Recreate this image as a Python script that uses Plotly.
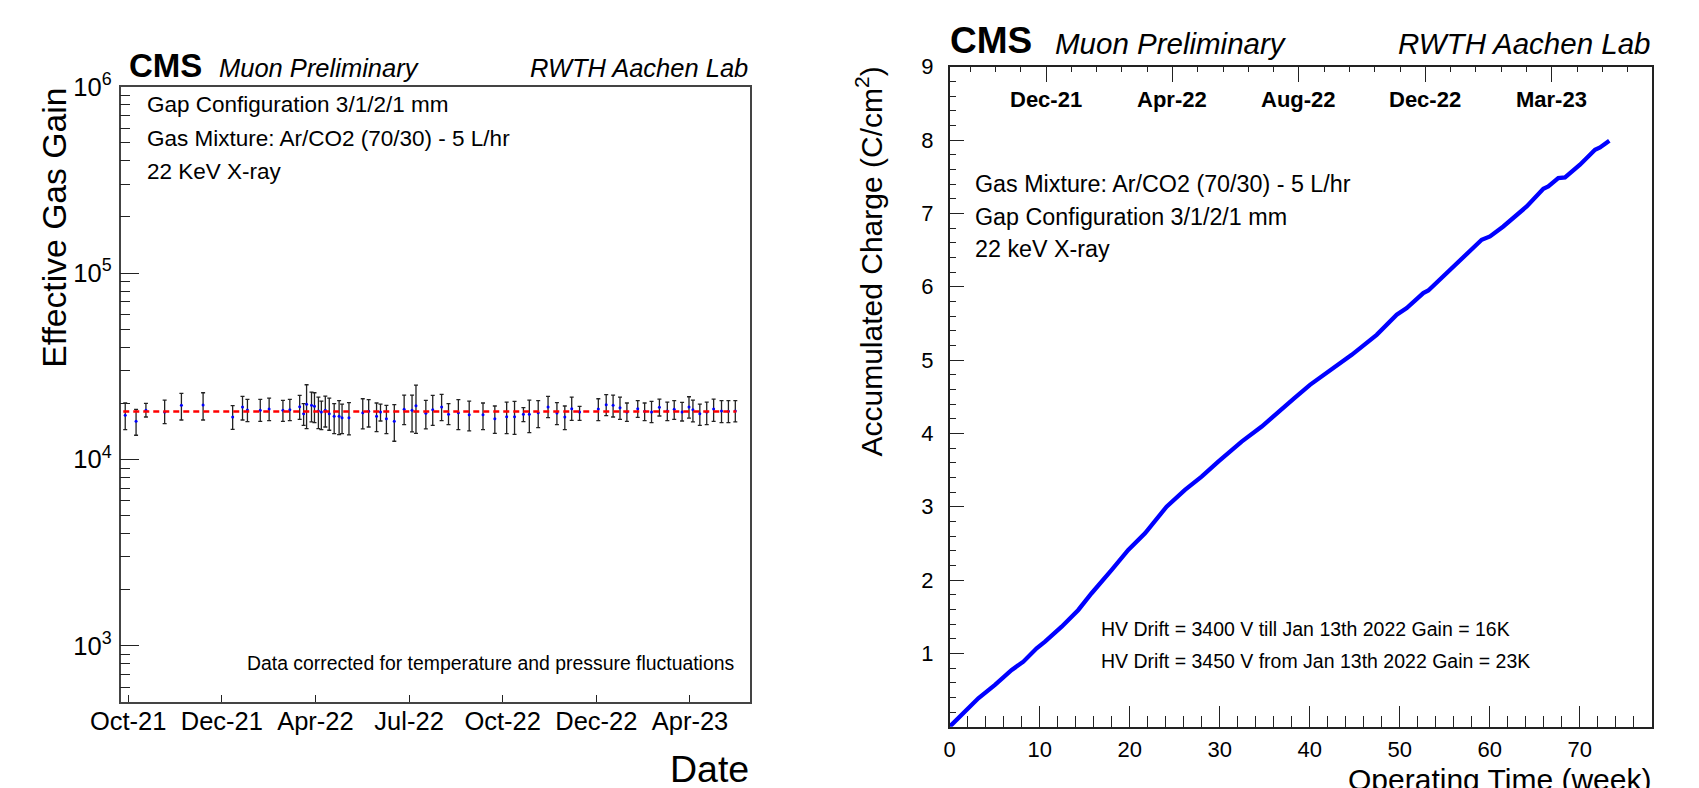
import math
import plotly.graph_objects as go

# ---------------- data: left panel (effective gas gain vs date) ----------------
days = [-3, 8, 18, 37, 54, 76, 106, 116, 121, 134, 143, 157, 164, 174, 178, 181, 186, 189,
        193, 196, 200, 204, 209, 214, 217, 224, 238, 244, 252, 256, 262, 270, 280, 288, 292,
        302, 309, 318, 325, 335, 346, 360, 372, 384, 392, 401, 407, 416, 426, 435, 443, 450,
        458, 477, 485, 492, 499, 506, 517, 524, 531, 539, 547, 554, 562, 569, 573, 580, 587,
        594, 602, 609, 616]
gain = [17250, 16030, 18350, 17980, 19520, 19600, 16900, 19120, 18430, 18350, 18660, 18350,
        18500, 19200, 17610, 19760, 19520, 19280, 18200, 17980, 18350, 17610, 17040, 17040,
        16760, 16760, 17830, 18130, 17040, 17980, 16560, 16030, 18580, 18350, 19440, 17690,
        18500, 19120, 17470, 17830, 17400, 17400, 16560, 16970, 16970, 17470, 17470, 17830,
        19120, 17760, 16900, 18730, 17980, 18660, 19680, 19520, 18970, 17980, 18730, 18130,
        17980, 19040, 18200, 18580, 17980, 19120, 18500, 17610, 17980, 18660, 18200, 18130,
        18200]
gain_hi = [20090, 18580, 20010, 20840, 22620, 22810, 19440, 21800, 21010, 21010, 21360, 20760,
           21010, 22070, 19920, 25170, 23000, 22810, 21620, 20590, 21890, 21360, 19920, 20670,
           19840, 20170, 21180, 20930, 20090, 19840, 19520, 19680, 22160, 22160, 25060, 20760,
           22070, 22350, 19920, 20930, 20590, 20090, 19360, 20330, 20500, 18970, 20840, 20670,
           21800, 20170, 19360, 21620, 19280, 21180, 22260, 22160, 21620, 20090, 20670, 20090,
           20500, 21100, 20330, 20670, 20250, 21710, 20840, 19840, 20330, 21100, 20670, 20670,
           20670]
gain_lo = [14470, 13490, 16900, 15570, 16290, 16290, 14520, 16290, 15960, 16030, 16160, 16030,
           16160, 16420, 15250, 14640, 15900, 15770, 14640, 14470, 14940, 14350, 13770, 13600,
           13770, 13540, 14580, 14940, 14110, 16090, 13770, 12530, 15380, 14050, 13820, 14580,
           15250, 16160, 15380, 14470, 14230, 14470, 13820, 13770, 13650, 15960, 13940, 14820,
           16760, 15380, 14470, 16220, 16220, 16160, 17180, 16900, 16420, 16030, 16830, 16160,
           15770, 17110, 16160, 16420, 16090, 16690, 15900, 15250, 15380, 16030, 15770, 15770,
           15900]
mean_gain = 18100
fit_days = [-5, 617]

date_tick_days = [0, 95, 190, 285, 380, 475, 570]
date_tick_labels = ["Oct-21", "Dec-21", "Apr-22", "Jul-22", "Oct-22", "Dec-22", "Apr-23"]
gain_tick_vals = [1e3, 1e4, 1e5, 1e6]
gain_tick_labels = ["10<sup>3</sup>", "10<sup>4</sup>", "10<sup>5</sup>", "10<sup>6</sup>"]

# ---------------- data: right panel (accumulated charge vs operating time) ----------------
weeks = [0, 1.7, 3.18, 5.03, 6.89, 8.18, 9.66, 10.59, 12.44, 14.29, 15.77, 18.0, 19.84, 21.7,
         23.18, 24.1, 26.14, 27.99, 29.84, 32.44, 34.67, 36.51, 38.3, 40.03, 42.26, 44.67,
         47.44, 49.67, 50.78, 52.62, 53.18, 55.96, 58.18, 59.11, 60.03, 61.51, 64.11, 65.96,
         66.51, 67.62, 68.37, 70.03, 71.7, 72.26, 73.29]
charge = [0, 0.205, 0.387, 0.569, 0.773, 0.887, 1.069, 1.160, 1.364, 1.592, 1.82, 2.138, 2.41,
          2.638, 2.865, 3.0, 3.229, 3.411, 3.615, 3.888, 4.093, 4.297, 4.48, 4.662, 4.866,
          5.071, 5.344, 5.617, 5.708, 5.913, 5.948, 6.276, 6.549, 6.64, 6.685, 6.821, 7.094,
          7.336, 7.367, 7.481, 7.49, 7.663, 7.867, 7.899, 7.99]

month_tick_weeks = [10.7, 24.75, 38.8, 52.85, 66.9]
month_tick_labels = ["Dec-21", "Apr-22", "Aug-22", "Dec-22", "Mar-23"]

# ---------------- layout helpers ----------------
W, H = 1699, 788
FONT = "Liberation Sans, Arial, Helvetica, sans-serif"


def px(x):
    return x / W


def py(y):
    return 1 - y / H


err_up = [h - g for h, g in zip(gain_hi, gain)]
err_dn = [g - l for g, l in zip(gain, gain_lo)]

fig = go.Figure()

fig.add_trace(go.Scatter(
    x=days, y=gain, mode="markers",
    marker=dict(color="#0000ff", size=3),
    error_y=dict(type="data", symmetric=False, array=err_up, arrayminus=err_dn,
                 color="#222222", thickness=1.3, width=2),
    xaxis="x", yaxis="y", showlegend=False, hoverinfo="skip"))

fig.add_trace(go.Scatter(
    x=fit_days, y=[mean_gain, mean_gain], mode="lines",
    line=dict(color="#ff0000", width=2.4, dash="6px,4px"),
    xaxis="x", yaxis="y", showlegend=False, hoverinfo="skip"))

fig.add_trace(go.Scatter(
    x=weeks, y=charge, mode="lines",
    line=dict(color="#0000ff", width=4.3),
    xaxis="x2", yaxis="y2", showlegend=False, hoverinfo="skip"))

fig.add_trace(go.Scatter(
    x=[None], y=[None], mode="markers", xaxis="x3", yaxis="y2",
    showlegend=False, hoverinfo="skip"))

minor_gain = [v * 10 ** e for e in range(2, 6) for v in range(2, 10) if 500 < v * 10 ** e < 1e6]

axis_common = dict(showgrid=False, zeroline=False, showline=True, mirror=True,
                   automargin=False, ticks="inside", tickcolor="#222222", tickwidth=1.2)

fig.update_layout(
    width=W, height=H,
    margin=dict(l=0, r=0, t=0, b=0, autoexpand=False),
    paper_bgcolor="white", plot_bgcolor="white",
    font=dict(family=FONT, color="black"),
    xaxis=dict(axis_common, domain=[px(120.5), px(750)], range=[-7.8, 630.9],
               tickmode="array", tickvals=date_tick_days, ticktext=date_tick_labels,
               ticklen=7, linecolor="#444444", linewidth=1.6,
               tickfont=dict(size=25.5), ticklabelstandoff=-4, anchor="y"),
    yaxis=dict(axis_common, domain=[py(702), py(86.7)], type="log",
               range=[math.log10(500), 6],
               tickmode="array", tickvals=gain_tick_vals, ticktext=gain_tick_labels,
               ticklen=18.5, linecolor="#444444", linewidth=1.6,
               minor=dict(ticks="inside", ticklen=9.5, tickmode="array", tickvals=minor_gain,
                          tickcolor="#222222", showgrid=False),
               tickfont=dict(size=25.5), ticklabelstandoff=2, anchor="x"),
    xaxis2=dict(axis_common, domain=[px(949.7), px(1651.7)], range=[0, 78],
                tickmode="linear", tick0=0, dtick=10, ticklen=20.7,
                linecolor="#222222", linewidth=1.8,
                minor=dict(ticks="inside", ticklen=10.7, tick0=0, dtick=2,
                           tickcolor="#222222", showgrid=False),
                tickfont=dict(size=22), ticklabelstandoff=2, anchor="y2"),
    yaxis2=dict(axis_common, domain=[py(726.7), py(66.7)], range=[0, 9],
                tickmode="array", tickvals=[1, 2, 3, 4, 5, 6, 7, 8, 9], ticklen=14,
                linecolor="#222222", linewidth=1.8,
                minor=dict(ticks="inside", ticklen=6.7, tick0=0, dtick=0.2,
                           tickcolor="#222222", showgrid=False),
                tickfont=dict(size=22), ticklabelstandoff=10, anchor="x2"),
    xaxis3=dict(overlaying="x2", side="top", anchor="y2", range=[0, 78],
                automargin=False,
                showgrid=False, zeroline=False, showline=False,
                tickmode="array", tickvals=month_tick_weeks, showticklabels=False,
                ticks="inside", ticklen=15.7, tickcolor="#222222", tickwidth=1.2,
                minor=dict(ticks="inside", ticklen=5.7, tick0=month_tick_weeks[0],
                           dtick=(month_tick_weeks[-1] - month_tick_weeks[0]) / 20,
                           tickcolor="#222222", showgrid=False)),
)

ann = []


def text(x, y, s, size, xanchor="left", bold=False, italic=False, angle=0, xref="paper"):
    ann.append(dict(x=x, y=y, xref=xref, yref="paper", text=s, showarrow=False,
                    xanchor=xanchor, yanchor="middle", textangle=angle,
                    font=dict(size=size, family=FONT, color="black",
                              weight="bold" if bold else "normal",
                              style="italic" if italic else "normal")))


# left panel texts
text(px(127), py(66), "CMS", 33, bold=True)
text(px(217), py(68.5), "Muon Preliminary", 25.5, italic=True)
text(px(750), py(68.5), "RWTH Aachen Lab", 25.5, xanchor="right", italic=True)
text(px(145), py(105), "Gap Configuration 3/1/2/1 mm", 22.5)
text(px(145), py(138.5), "Gas Mixture: Ar/CO2 (70/30) - 5 L/hr", 22.5)
text(px(145), py(171.5), "22 KeV X-ray", 22.5)
text(px(736), py(663), "Data corrected for temperature and pressure fluctuations", 19.4,
     xanchor="right")
text(px(54.4), py(227.4), "Effective Gas Gain", 33.7, xanchor="center", angle=-90)
text(px(751), py(769), "Date", 37.5, xanchor="right")

# right panel texts
text(px(948), py(41), "CMS", 37, bold=True)
text(px(1053), py(43.6), "Muon Preliminary", 29.5, italic=True)
text(px(1653), py(43.6), "RWTH Aachen Lab", 29.5, xanchor="right", italic=True)
text(px(973), py(184.3), "Gas Mixture: Ar/CO2 (70/30) - 5 L/hr", 23.3)
text(px(973), py(216.7), "Gap Configuration 3/1/2/1 mm", 23.3)
text(px(973), py(249.3), "22 keV X-ray", 23.3)
text(px(1099), py(629.3), "HV Drift = 3400 V till Jan 13th 2022 Gain = 16K", 19.5)
text(px(1099), py(661), "HV Drift = 3450 V from Jan 13th 2022 Gain = 23K", 19.5)
text(px(868.8), py(261.7), "Accumulated Charge (C/cm<sup>2</sup>)", 30, xanchor="center",
     angle=-90)
text(px(1653), py(779), "Operating Time (week)", 30, xanchor="right")
for wk, lab in zip(month_tick_weeks, month_tick_labels):
    text(wk, py(99.3), lab, 22, xanchor="center", bold=True, xref="x2")

fig.update_layout(annotations=ann)

fig.write_html(
    "out.html",
    config={"displayModeBar": False},
    post_script="document.body.style.margin='0px';document.body.style.padding='0px';"
                "document.body.style.overflow='hidden';")
